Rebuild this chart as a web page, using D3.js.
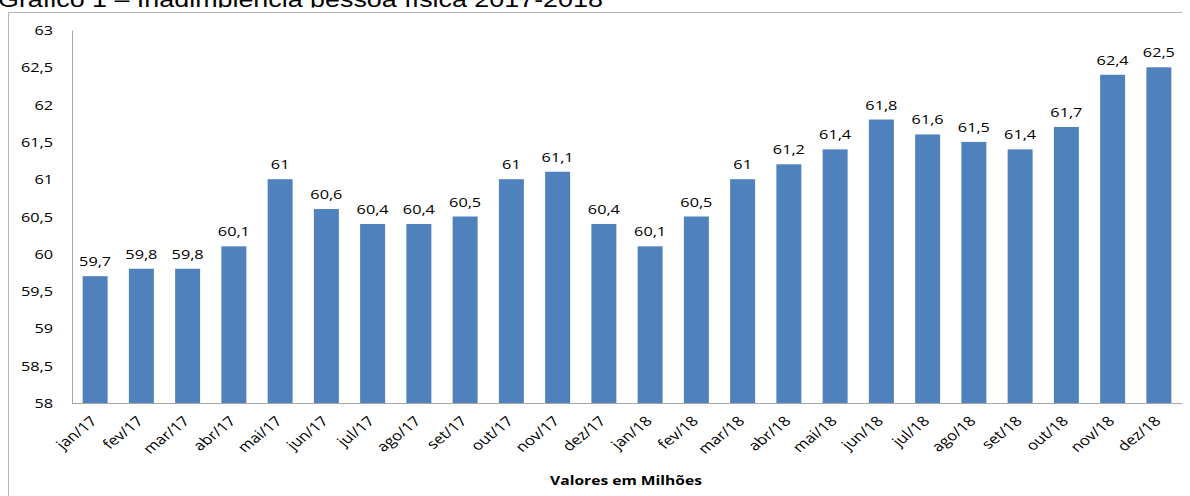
<!DOCTYPE html>
<html>
<head>
<meta charset="utf-8">
<script src="https://cdn.jsdelivr.net/npm/d3@7"></script>
<style>
  html, body { margin: 0; padding: 0; background: #fff; }
  svg { display: block; }
</style>
</head>
<body>
<script>
const categories = ["jan/17","fev/17","mar/17","abr/17","mai/17","jun/17","jul/17","ago/17","set/17","out/17","nov/17","dez/17",
                    "jan/18","fev/18","mar/18","abr/18","mai/18","jun/18","jul/18","ago/18","set/18","out/18","nov/18","dez/18"];
const values = [59.7,59.8,59.8,60.1,61,60.6,60.4,60.4,60.5,61,61.1,60.4,
                60.1,60.5,61,61.2,61.4,61.8,61.6,61.5,61.4,61.7,62.4,62.5];
const yTicks = [58,58.5,59,59.5,60,60.5,61,61.5,62,62.5,63];
const titleText = "Gráfico 1 – Inadimplência pessoa física 2017-2018";
const axisTitle = "Valores em Milhões";

const W = 1190, H = 496;
const SX = 1.25; // horizontal stretch of the reference's text
const fmt = v => String(v).replace(".", ",");
const font = "Open Sans, sans-serif";

const svg = d3.select("body").append("svg").attr("width", W).attr("height", H);

// title (partially cut at top)
svg.append("text").attr("transform", `translate(-2,7) scale(${SX},1)`)
  .attr("font-family", "Liberation Sans, Arial, sans-serif").attr("font-size", 21.5)
  .attr("fill", "#000").text(titleText);
// white chart box covering title descenders
svg.append("rect").attr("x", 0).attr("y", 7.5).attr("width", W).attr("height", H).attr("fill", "#fff");

// frame
svg.append("path").attr("d", "M8.5,496 V12.5 H1182")
  .attr("fill", "none").attr("stroke", "#b4b4b4").attr("stroke-width", 1);

const x0 = 72, x1 = 1182, yTop = 30, yBot = 403;
const x = d3.scaleBand().domain(categories).range([x0, x1]).paddingInner(0.46).paddingOuter(0.23);
const y = d3.scaleLinear().domain([58, 63]).range([yBot, yTop]);

// y axis
const yAxis = svg.append("g").attr("transform", `translate(${x0},0)`)
  .call(d3.axisLeft(y).tickValues(yTicks).tickFormat(fmt).tickSize(0).tickPadding(0));
yAxis.select(".domain").attr("stroke", "#a6a6a6");
yAxis.selectAll(".tick text")
  .attr("x", 0).attr("dy", "0.35em")
  .attr("transform", `translate(-19,0) scale(${SX},1)`)
  .attr("font-family", font).attr("font-size", 13).attr("fill", "#000");

// bars
svg.append("g").selectAll("rect").data(values).join("rect")
  .attr("x", (d, i) => x(categories[i]))
  .attr("width", x.bandwidth())
  .attr("y", d => y(d))
  .attr("height", d => y(58) - y(d))
  .attr("fill", "#4f81bd");

// value labels
svg.append("g").selectAll("text").data(values).join("text")
  .attr("transform", (d, i) => `translate(${x(categories[i]) + x.bandwidth() / 2},${y(d) - 10}) scale(${SX},1)`)
  .attr("text-anchor", "middle")
  .attr("font-family", font).attr("font-size", 13).attr("fill", "#000")
  .text(fmt);

// x axis
const xAxis = svg.append("g").attr("transform", `translate(0,${yBot})`)
  .call(d3.axisBottom(x).tickSize(0).tickPadding(0));
xAxis.select(".domain").attr("stroke", "#a6a6a6").attr("d", `M${x0},0.5H${x1}`);
xAxis.selectAll(".tick text")
  .attr("font-family", font).attr("font-size", 13.5).attr("fill", "#000")
  .attr("text-anchor", "end")
  .attr("y", 0).attr("dy", 0)
  .attr("transform", `translate(3,19) scale(${SX},1) rotate(-45)`);

// axis title
svg.append("text").attr("transform", `translate(626,485) scale(${SX},1)`).attr("text-anchor", "middle")
  .attr("font-family", font).attr("font-size", 12.5).attr("font-weight", "bold")
  .attr("fill", "#000").text(axisTitle);
</script>
</body>
</html>
